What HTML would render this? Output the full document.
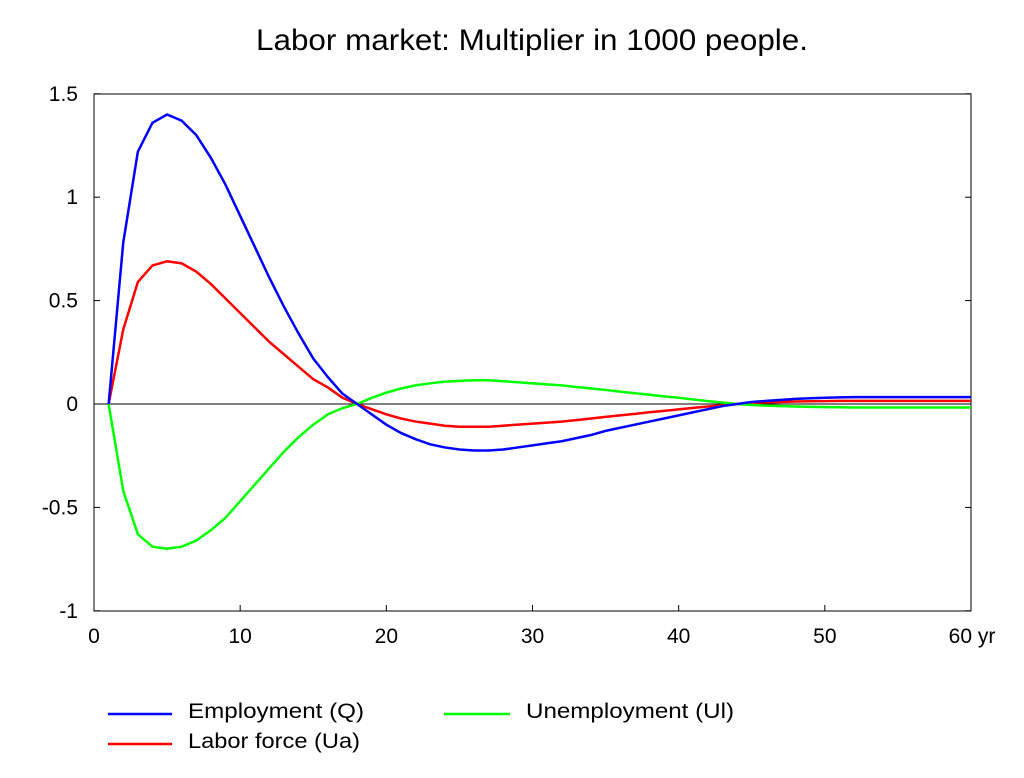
<!DOCTYPE html>
<html><head><meta charset="utf-8"><style>
body{margin:0;background:#fff;}
svg{display:block;font-family:"Liberation Sans",sans-serif;}
</style></head><body>
<svg id="chart" width="1024" height="778">
<text x="532" y="50" text-anchor="middle" font-size="30" textLength="552" lengthAdjust="spacingAndGlyphs">Labor market: Multiplier in 1000 people.</text>
<rect x="94" y="94" width="877" height="517" fill="none" stroke="#000" stroke-width="1"/>
<g id="axes"></g>
<g id="series"></g>
<g>
<line x1="108" y1="714" x2="172" y2="714" stroke="#0000ff" stroke-width="2.5"/>
<text x="188" y="718" font-size="21" textLength="176" lengthAdjust="spacingAndGlyphs">Employment (Q)</text>
<line x1="444" y1="714" x2="510" y2="714" stroke="#00ff00" stroke-width="2.5"/>
<text x="526" y="718" font-size="21" textLength="208" lengthAdjust="spacingAndGlyphs">Unemployment (Ul)</text>
<line x1="108" y1="744" x2="172" y2="744" stroke="#ff0000" stroke-width="2.5"/>
<text x="188" y="748" font-size="21" textLength="172" lengthAdjust="spacingAndGlyphs">Labor force (Ua)</text>
</g>
</svg>
<script>
const years=[];for(let i=1;i<=60;i++)years.push(i);
const employment=[0,0.78,1.22,1.36,1.40,1.37,1.30,1.19,1.06,0.91,0.76,0.61,0.47,0.34,0.22,0.13,0.05,0,-0.05,-0.10,-0.14,-0.17,-0.195,-0.21,-0.22,-0.225,-0.225,-0.22,-0.21,-0.20,-0.19,-0.18,-0.165,-0.15,-0.13,-0.115,-0.10,-0.085,-0.07,-0.055,-0.04,-0.025,-0.01,0,0.01,0.015,0.02,0.025,0.028,0.03,0.032,0.033,0.033,0.033,0.033,0.033,0.033,0.033,0.033,0.033];
const laborForce=[0,0.36,0.59,0.67,0.69,0.68,0.64,0.58,0.51,0.44,0.37,0.30,0.24,0.18,0.12,0.08,0.03,0,-0.025,-0.05,-0.07,-0.085,-0.095,-0.105,-0.11,-0.11,-0.11,-0.105,-0.10,-0.095,-0.09,-0.085,-0.078,-0.07,-0.062,-0.055,-0.048,-0.04,-0.033,-0.026,-0.019,-0.012,-0.006,0,0.005,0.008,0.01,0.012,0.013,0.014,0.015,0.015,0.015,0.015,0.015,0.015,0.015,0.015,0.015,0.015];
const unemployment=[0,-0.42,-0.63,-0.69,-0.70,-0.69,-0.66,-0.61,-0.55,-0.47,-0.39,-0.31,-0.23,-0.16,-0.10,-0.05,-0.02,0,0.03,0.055,0.075,0.09,0.10,0.108,0.112,0.115,0.115,0.11,0.105,0.10,0.095,0.09,0.082,0.075,0.068,0.06,0.052,0.045,0.037,0.03,0.022,0.014,0.007,0,-0.005,-0.008,-0.01,-0.012,-0.014,-0.015,-0.016,-0.017,-0.017,-0.017,-0.017,-0.017,-0.017,-0.017,-0.017,-0.017];
const xTicks=[0,10,20,30,40,50,60];
const xTickLabels=["0","10","20","30","40","50","60 yr"];
const yTicks=[-1,-0.5,0,0.5,1,1.5];
const yTickLabels=["-1","-0.5","0","0.5","1","1.5"];
const NS="http://www.w3.org/2000/svg";
const X=v=>94+v*(877/60), Y=v=>404-v*206.8;
const axes=document.getElementById('axes'), ser=document.getElementById('series');
function mk(t,a,p){const e=document.createElementNS(NS,t);for(const k in a)e.setAttribute(k,a[k]);p.appendChild(e);return e;}
const zl=mk('line',{x1:94,x2:971,y1:Y(0),y2:Y(0),stroke:'#000','stroke-width':1},axes);


xTicks.forEach((v,i)=>{
 const t=mk('line',{x1:X(v),x2:X(v),y1:611,y2:605,stroke:'#000'},axes);
 
 
 const l=mk('text',{x:X(v)+(i==6?1:0),y:643,'text-anchor':'middle','font-size':21},axes);
 l.textContent=xTickLabels[i];
 
 
});
yTicks.forEach((v,i)=>{
 const t=mk('line',{x1:94,x2:100,y1:Y(v),y2:Y(v),stroke:'#000'},axes);
 
 
 const t2=mk('line',{x1:965,x2:971,y1:Y(v),y2:Y(v),stroke:'#000'},axes);
 
 
 const l=mk('text',{x:78,y:Y(v)+7,'text-anchor':'end','font-size':21},axes);
 l.textContent=yTickLabels[i];
 
 
});
[[laborForce,'#ff0000','labor-force-line'],[unemployment,'#00ff00','unemployment-line'],[employment,'#0000ff','employment-line']].forEach(([d,c,n])=>{
 const p=mk('polyline',{points:d.map((v,i)=>X(years[i])+','+Y(v)).join(' '),fill:'none',stroke:c,'stroke-width':2.5},ser);
 
 
});
</script>
</body></html>
